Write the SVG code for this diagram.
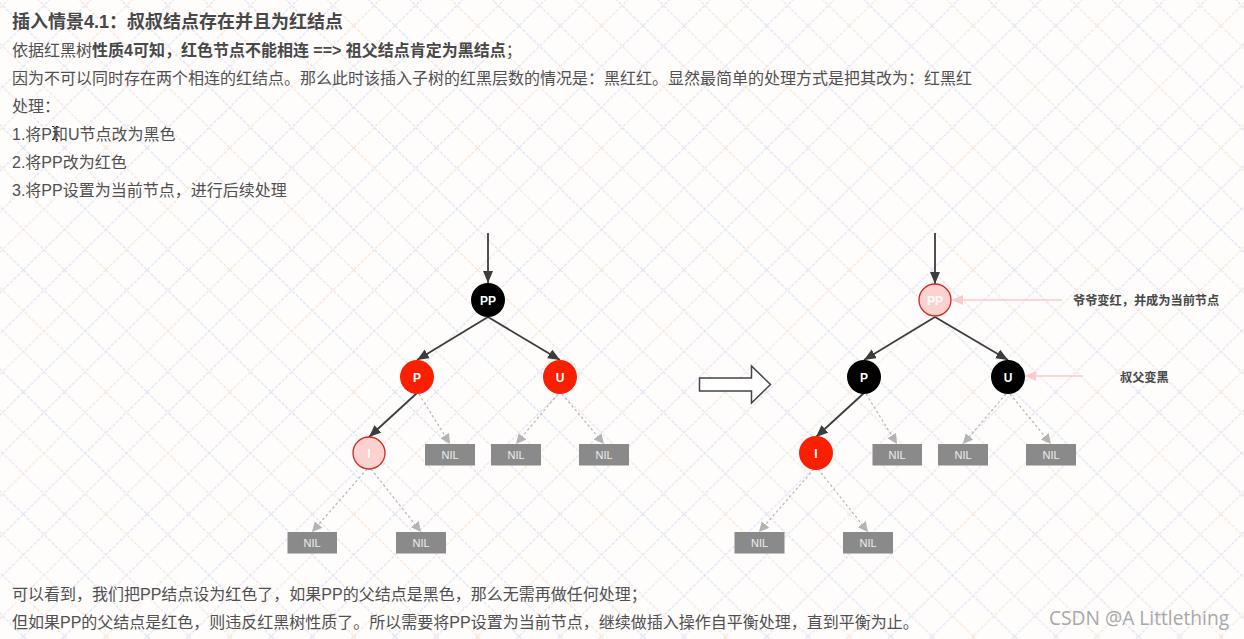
<svg xmlns="http://www.w3.org/2000/svg" width="1244" height="639" viewBox="0 0 1244 639">
<style>
text{font-family:"Liberation Sans","Noto Sans CJK SC",sans-serif}
.t{font-size:16px;fill:#505050}
.b{font-weight:bold;fill:#484848}
.n{font-size:12px;font-weight:bold;fill:#fff;text-anchor:middle}
.nil{font-size:11px;fill:#eee;text-anchor:middle}
.r{fill:#8a8a8a}
.s{stroke:#3c3c3c;stroke-width:1.8;fill:none;marker-end:url(#a)}
.d{stroke:#b4b4b4;stroke-width:1.2;stroke-dasharray:2.5 2.5;fill:none;marker-end:url(#g)}
.p{stroke:#fbcaca;stroke-width:1.5;fill:none;marker-end:url(#h)}
.c{font-size:12.2px;font-weight:bold;fill:#484848}
</style>
<defs>
<marker id="a" markerUnits="userSpaceOnUse" markerWidth="14" markerHeight="12" refX="12" refY="5" orient="auto"><path d="M0 0L12 5L0 10z" fill="#3c3c3c"/></marker>
<marker id="g" markerUnits="userSpaceOnUse" markerWidth="12" markerHeight="12" refX="10" refY="5" orient="auto"><path d="M0 0L10 5L0 10z" fill="#b4b4b4"/></marker>
<marker id="h" markerUnits="userSpaceOnUse" markerWidth="14" markerHeight="12" refX="11" refY="5" orient="auto"><path d="M0 0L11 5L0 10z" fill="#fbcaca"/></marker>
<pattern id="bg" width="123.900" height="122.100" patternUnits="userSpaceOnUse" patternTransform="translate(23.300 25.800)">
<g fill="none" stroke-width="1.100" stroke-dasharray="3.500 1.500">
<path stroke="#d6def0" d="M0 0L123.900 122.100M-123.900 0L0 122.100"/>
<path stroke="#ecdcec" d="M41.300 0L165.200 122.100M-82.600 0L41.300 122.100"/>
<path stroke="#f6e2d2" d="M82.600 0L206.500 122.100M-41.300 0L82.600 122.100"/>
<path stroke="#dae0f0" d="M123.900 0L0 122.100M247.800 0L123.900 122.100"/>
<path stroke="#f6e2d4" d="M82.600 0L-41.300 122.100M206.500 0L82.600 122.100"/>
<path stroke="#e4dcf0" d="M41.300 0L-82.600 122.100M165.200 0L41.300 122.100"/>
</g>
</pattern>
</defs>
<rect width="1244" height="639" fill="#fefdfc"/>
<rect width="1244" height="639" fill="url(#bg)"/>
<g id="text">
<text x="12" y="28" class="b" style="font-size:18px">插入情景4.1：叔叔结点存在并且为红结点</text>
<text x="12" y="56" class="t">依据红黑树<tspan class="b">性质4可知，红色节点不能相连 ==&gt; 祖父结点肯定为黑结点</tspan>；</text>
<text x="12" y="84" class="t">因为不可以同时存在两个相连的红结点。那么此时该插入子树的红黑层数的情况是：黑红红。显然最简单的处理方式是把其改为：红黑红</text>
<text x="12" y="112" class="t">处理：</text>
<text x="12" y="140" class="t">1.将P和U节点改为黑色</text>
<text x="12" y="168" class="t">2.将PP改为红色</text>
<text x="12" y="196" class="t">3.将PP设置为当前节点，进行后续处理</text>
<text x="12" y="600" class="t">可以看到，我们把PP结点设为红色了，如果PP的父结点是黑色，那么无需再做任何处理；</text>
<text x="12" y="628" class="t">但如果PP的父结点是红色，则违反红黑树性质了。所以需要将PP设置为当前节点，继续做插入操作自平衡处理，直到平衡为止。</text>
<text x="1049" y="625" style="font-size:19.200px;fill:#a8a8a8;font-family:'Open Sans',sans-serif">CSDN @A Littlething</text>
</g>
<path id="cursor" d="M52 126.500h2l1 1 1-1h2M55 127.500v11M52 139.500h2l1-1 1 1h2" fill="none" stroke="#222" stroke-width="1"/>
<g id="connectors">
<path class="s" d="M488 233V283"/><path class="s" d="M488 317L417 360"/><path class="s" d="M488 317L560 360"/><path class="s" d="M417 393L369 437"/>
<path class="d" d="M419 394L450 444"/><path class="d" d="M558 394L516 444"/><path class="d" d="M562 394L604 444"/><path class="d" d="M367 469L312 532"/><path class="d" d="M371 469L421 532"/>
<path class="s" d="M935 233V284"/><path class="s" d="M935 317L864 360"/><path class="s" d="M935 317L1008 360"/><path class="s" d="M864 393L816 437"/>
<path class="d" d="M866 394L897 444"/><path class="d" d="M1006 394L963 444"/><path class="d" d="M1010 394L1051 444"/><path class="d" d="M814 469L759 532"/><path class="d" d="M818 469L868 532"/>
<path class="p" d="M1062 300H952"/><path class="p" d="M1083 376H1025"/>
</g>
<g id="L-PP"><circle cx="488" cy="300" r="17"/><text x="488" y="304.500" class="n">PP</text></g>
<g id="L-P"><circle cx="417" cy="377" r="17" fill="#f91f00"/><text x="417" y="381.500" class="n">P</text></g>
<g id="L-U"><circle cx="560" cy="377" r="17" fill="#f91f00"/><text x="560" y="381.500" class="n">U</text></g>
<g id="L-I"><circle cx="369" cy="453" r="16" fill="#fbd2cf" stroke="#d0281a" stroke-width="1.300"/><text x="369" y="457.500" class="n">I</text></g>
<g id="L-N1"><rect class="r" x="425" y="444" width="50" height="21.500"/><text x="450" y="459" class="nil">NIL</text></g>
<g id="L-N2"><rect class="r" x="491" y="444" width="50" height="21.500"/><text x="516" y="459" class="nil">NIL</text></g>
<g id="L-N3"><rect class="r" x="579" y="444" width="50" height="21.500"/><text x="604" y="459" class="nil">NIL</text></g>
<g id="L-N4"><rect class="r" x="287.500" y="532" width="49.500" height="21.500"/><text x="312" y="547" class="nil">NIL</text></g>
<g id="L-N5"><rect class="r" x="396" y="532" width="50" height="21.500"/><text x="421" y="547" class="nil">NIL</text></g>
<g id="block-arrow"><path d="M699.500 378H751.500V366L770.500 384.500L751.500 403V391H699.500Z" fill="#fff" stroke="#444" stroke-width="1.500"/></g>
<g id="R-PP"><circle cx="935" cy="300" r="16" fill="#fbd2cf" stroke="#d0281a" stroke-width="1.300"/><text x="935" y="304.500" class="n">PP</text></g>
<g id="R-P"><circle cx="864" cy="377" r="17"/><text x="864" y="381.500" class="n">P</text></g>
<g id="R-U"><circle cx="1008" cy="377" r="17"/><text x="1008" y="381.500" class="n">U</text></g>
<g id="R-I"><circle cx="816" cy="453" r="17" fill="#f91f00"/><text x="816" y="457.500" class="n">I</text></g>
<g id="R-N1"><rect class="r" x="872.500" y="444" width="49.500" height="21.500"/><text x="897" y="459" class="nil">NIL</text></g>
<g id="R-N2"><rect class="r" x="938" y="444" width="50" height="21.500"/><text x="963" y="459" class="nil">NIL</text></g>
<g id="R-N3"><rect class="r" x="1026" y="444" width="50" height="21.500"/><text x="1051" y="459" class="nil">NIL</text></g>
<g id="R-N4"><rect class="r" x="734.500" y="532" width="50" height="21.500"/><text x="759.500" y="547" class="nil">NIL</text></g>
<g id="R-N5"><rect class="r" x="843" y="532" width="50" height="21.500"/><text x="868" y="547" class="nil">NIL</text></g>
<g id="notes">
<text x="1073" y="305" class="c">爷爷变红，并成为当前节点</text>
<text x="1120" y="382" class="c">叔父变黑</text>
</g>
</svg>
